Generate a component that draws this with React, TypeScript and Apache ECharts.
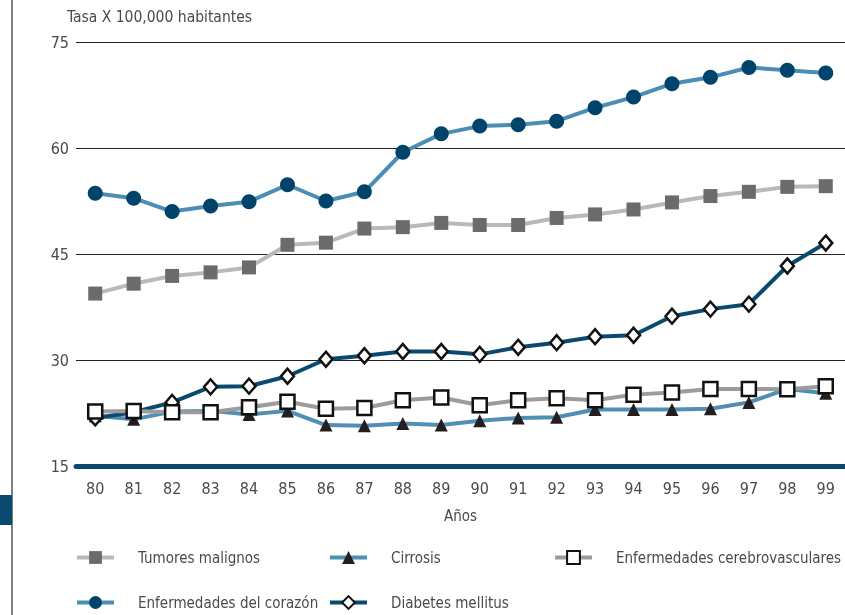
import React, { useEffect, useRef } from "react";
import * as echarts from "echarts";

const years = ["80","81","82","83","84","85","86","87","88","89","90","91","92","93","94","95","96","97","98","99"];
const tumores = [39.4,40.8,41.9,42.4,43.1,46.3,46.6,48.6,48.8,49.4,49.1,49.1,50.1,50.6,51.3,52.3,53.2,53.8,54.5,54.6];
const cirrosis = [22.1,21.6,22.7,22.8,22.3,22.8,20.8,20.7,21.0,20.8,21.4,21.8,21.9,23.0,23.0,23.0,23.1,24.0,25.9,25.3];
const cerebro = [22.7,22.8,22.6,22.6,23.3,24.1,23.1,23.2,24.3,24.7,23.6,24.3,24.6,24.3,25.1,25.4,25.9,25.9,25.85,26.3];
const corazon = [53.6,52.9,51.0,51.8,52.4,54.8,52.5,53.8,59.4,62.0,63.1,63.3,63.8,65.7,67.2,69.1,70.0,71.4,71.0,70.6];
const diabetes = [21.8,22.6,24.0,26.2,26.3,27.7,30.1,30.6,31.2,31.2,30.8,31.8,32.45,33.3,33.5,36.2,37.2,37.9,43.3,46.55];
const yTicks = { min: 15, max: 75, interval: 15 };

const FONT = "'DejaVu Sans Condensed', 'Roboto', sans-serif";
const TXT = "#4a4a4a";

export default function App() {
  const ref = useRef<HTMLDivElement>(null);
  useEffect(() => {
    const chart = echarts.init(ref.current!, null, { renderer: "svg" });
    const mk = (name: string, data: number[], lineColor: string, symbol: string, size: any, fill: string, border?: string) => ({
      name,
      type: "line",
      data,
      symbol,
      symbolSize: size,
      showSymbol: true,
      showAllSymbol: true,
      lineStyle: { color: lineColor, width: 4 },
      itemStyle: border ? { color: fill, borderColor: border, borderWidth: 2.5 } : { color: fill, borderWidth: 0 },
      emphasis: { disabled: true },
      silent: true,
    });
    const leg = (name: string, left: number, top: number) => ({
      data: [name],
      left,
      top,
      padding: 0,
      itemWidth: 37,
      itemHeight: 16,
      selectedMode: false,
      lineStyle: { width: 4 },
      textStyle: { fontFamily: FONT, fontSize: 15, color: TXT, padding: [0, 0, 0, 19] },
    });
    chart.setOption({
      animation: false,
      textStyle: { fontFamily: FONT },
      title: { text: "Tasa X 100,000 habitantes", left: 67, top: 9, padding: 0, textStyle: { fontFamily: FONT, fontSize: 15.5, fontWeight: "normal", color: TXT } },
      grid: { left: 76, right: -6, top: 42, bottom: 149 },
      xAxis: {
        type: "category",
        data: years,
        boundaryGap: true,
        name: "Años",
        nameLocation: "middle",
        nameGap: 42,
        nameTextStyle: { fontFamily: FONT, fontSize: 15, color: TXT },
        axisLine: { lineStyle: { color: "#0b4a6f", width: 5 } },
        axisTick: { length: 7, lineStyle: { color: "#555", width: 1 } },
        axisLabel: { fontFamily: FONT, fontSize: 16, color: TXT, margin: 14 },
      },
      yAxis: {
        type: "value",
        min: yTicks.min,
        max: yTicks.max,
        interval: yTicks.interval,
        axisLine: { show: false },
        axisTick: { show: false },
        axisLabel: { fontFamily: FONT, fontSize: 16, color: TXT, margin: 7 },
        splitLine: { lineStyle: { color: "#222", width: 1 } },
      },
      legend: [
        leg("Tumores malignos", 75, 550),
        leg("Cirrosis", 328, 550),
        leg("Enfermedades cerebrovasculares", 553, 550),
        leg("Enfermedades del corazón", 75, 595),
        leg("Diabetes mellitus", 328, 595),
      ],
      series: [
        mk("Tumores malignos", tumores, "#b9b9bb", "rect", 14, "#6b6b6e"),
        mk("Enfermedades del corazón", corazon, "#4b8db3", "circle", 15, "#00446b"),
        mk("Cirrosis", cirrosis, "#4f8fb3", "triangle", 13, "#231f20"),
        mk("Diabetes mellitus", diabetes, "#0b4a6f", "diamond", [13, 15], "#ffffff", "#111"),
        mk("Enfermedades cerebrovasculares", cerebro, "#9c9c9e", "rect", 14, "#ffffff", "#111"),
      ],
      graphic: [
        { type: "line", shape: { x1: 12, y1: 0, x2: 12, y2: 615 }, style: { stroke: "#555", lineWidth: 1.5 } },
        { type: "rect", shape: { x: 0, y: 495, width: 12, height: 30 }, style: { fill: "#0b4a6f" } },
      ],
    });
    return () => chart.dispose();
  }, []);
  return <div ref={ref} style={{ position: "fixed", left: 0, top: 0, width: 845, height: 615 }} />;
}
